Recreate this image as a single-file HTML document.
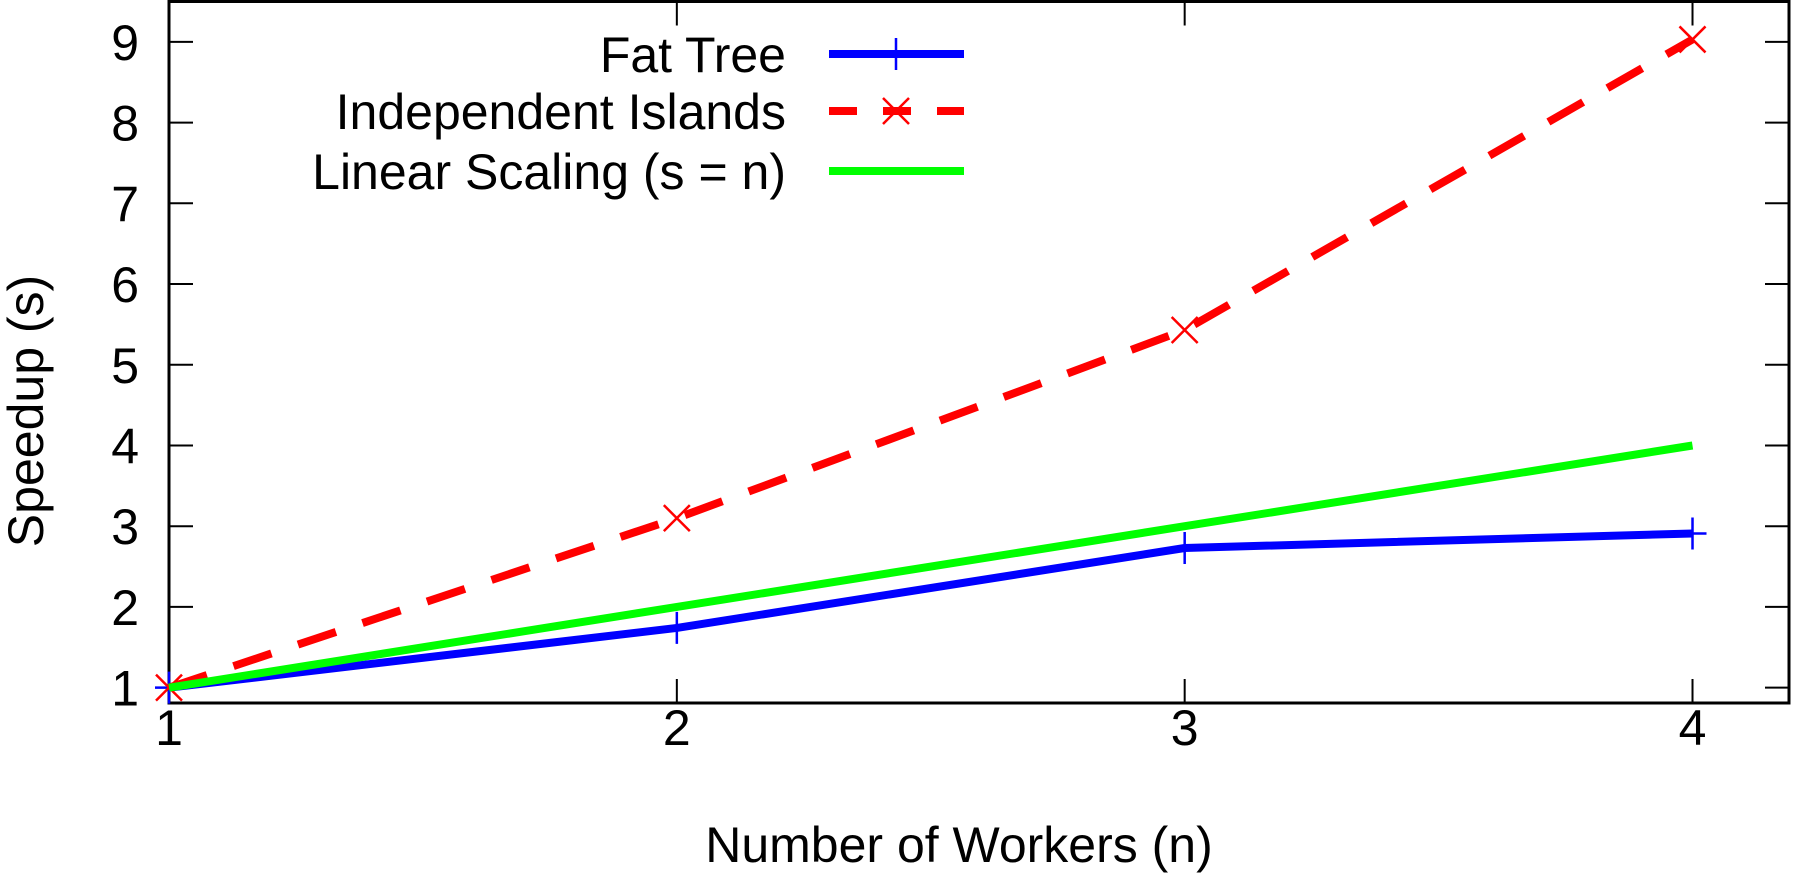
<!DOCTYPE html>
<html><head><meta charset="utf-8"><style>
html,body{margin:0;padding:0;background:#fff;}
svg text{font-family:"Liberation Sans",sans-serif;fill:#000;}
</style></head><body>
<svg width="1795" height="880" viewBox="0 0 1795 880" xmlns="http://www.w3.org/2000/svg">
<g id="grid"></g>
<g id="series"></g>
<g id="legend"></g>
</svg>
<script>
const workers = [1, 2, 3, 4];
const fatTree = [1, 1.74, 2.73, 2.91];
const islands = [1, 3.1, 5.43, 9.03];
const linear = [1, 2, 3, 4];
const yTicks = [1, 2, 3, 4, 5, 6, 7, 8, 9];
const xTicks = [1, 2, 3, 4];

const L = 169, R = 1789, T = 1.5, B = 703;
const xMin = 1, xMax = 4.19, yMin = 0.81, yMax = 9.5;
const X = v => L + (v - xMin) / (xMax - xMin) * (R - L);
const Y = v => B - (v - yMin) / (yMax - yMin) * (B - T);
const NS = 'http://www.w3.org/2000/svg';
function mk(tag, attrs, parent) {
  const e = document.createElementNS(NS, tag);
  for (const k in attrs) e.setAttribute(k, attrs[k]);
  parent.appendChild(e);
  return e;
}
const grid = document.getElementById('grid');
const series = document.getElementById('series');
const legend = document.getElementById('legend');
const FS = 50;

yTicks.forEach(v => {
  const t = mk('path', {d:`M${L},${Y(v)}h24M${R},${Y(v)}h-24`, stroke:'#000', 'stroke-width':2}, grid);
  
  
  const lb = mk('text', {x:139, y:Y(v)+18, 'font-size':FS, 'text-anchor':'end'}, grid);
  lb.textContent = v;
  
  
});
xTicks.forEach(v => {
  const t = mk('path', {d:`M${X(v)},${B}v-24M${X(v)},${T}v24`, stroke:'#000', 'stroke-width':2}, grid);
  
  
  const lb = mk('text', {x:X(v), y:745, 'font-size':FS, 'text-anchor':'middle'}, grid);
  lb.textContent = v;
  
  
});
const xt = mk('text', {x:959, y:862, 'font-size':FS, 'text-anchor':'middle'}, grid);
xt.textContent = 'Number of Workers (n)';


const yt = mk('text', {x:0, y:0, 'font-size':FS, 'text-anchor':'middle', transform:'translate(43,411) rotate(-90)'}, grid);
yt.textContent = 'Speedup (s)';



function pts(ys){ return workers.map((w,i)=>`${X(w)},${Y(ys[i])}`).join(' '); }
function plus(x,y,p){ const m=mk('path',{d:`M${x-14},${y}h28M${x},${y-16}v32`,stroke:'#0000ff','stroke-width':2.5},p);   }
function cross(x,y,p){ const m=mk('path',{d:`M${x-13},${y-13}l26,26M${x+13},${y-13}l-26,26`,stroke:'#ff0000','stroke-width':2.5},p);   }

const s1 = mk('polyline', {points:pts(fatTree), fill:'none', stroke:'#0000ff', 'stroke-width':8, 'stroke-linejoin':'round'}, series);


workers.forEach((w,i)=>plus(X(w),Y(fatTree[i]),series));
const s2 = mk('polyline', {points:pts(islands), fill:'none', stroke:'#ff0000', 'stroke-width':8, 'stroke-dasharray':'40 28'}, series);


workers.forEach((w,i)=>cross(X(w),Y(islands[i]),series));
const s3 = mk('polyline', {points:pts(linear), fill:'none', stroke:'#00ff00', 'stroke-width':8}, series);



const frame = mk('rect', {x:L, y:T, width:R-L, height:B-T, fill:'none', stroke:'#000', 'stroke-width':3}, grid);



const entries = [['Fat Tree','#0000ff',null,'plus'],['Independent Islands','#ff0000','28 26','cross'],['Linear Scaling (s = n)','#00ff00',null,null]];
const rows = [54, 111, 171];
entries.forEach((e,i)=>{
  const y = rows[i];
  const tx = mk('text', {x:786, y:y+18, 'font-size':FS, 'text-anchor':'end'}, legend);
  tx.textContent = e[0];
  
  
  const ln = mk('line', {x1:829, x2:964, y1:y, y2:y, stroke:e[1], 'stroke-width':8}, legend);
  if (e[2]) ln.setAttribute('stroke-dasharray', e[2]);
  
  
  if (e[3]==='plus') plus(896,y,legend);
  if (e[3]==='cross') cross(896,y,legend);
});
</script>
</body></html>
